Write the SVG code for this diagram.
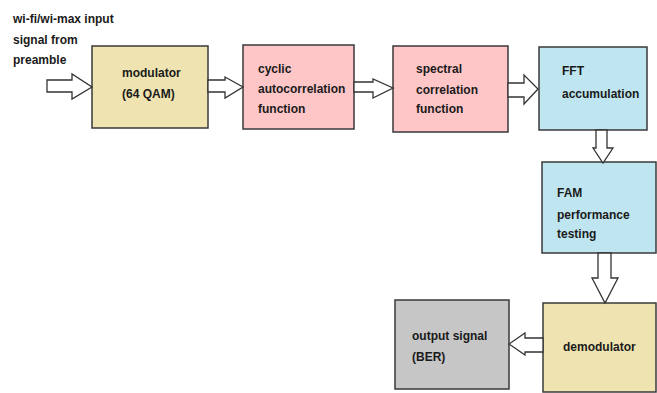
<svg xmlns="http://www.w3.org/2000/svg" width="657" height="393" viewBox="0 0 657 393">
<style>
.box{stroke:#3a3a3a;stroke-width:1.5}
.tan{fill:#efe4b1}
.pink{fill:#ffc6c8}
.blue{fill:#bfe6f0}
.gray{fill:#c6c6c6}
.arr{fill:#ffffff;stroke:#333333;stroke-width:1.3;stroke-linejoin:miter}
text{font-family:"Liberation Sans",Arial,sans-serif;font-size:12px;font-weight:bold;fill:#1a1a1a}
</style>
<rect width="657" height="393" fill="#ffffff"/>
<g id="input-label">
<text x="13" y="23">wi-fi/wi-max input</text>
<text x="13" y="44">signal from</text>
<text x="13" y="64">preamble</text>
</g>
<g id="modulator">
<rect class="box tan" x="92" y="46" width="116" height="82"/>
<text x="122" y="77">modulator</text>
<text x="122" y="98">(64 QAM)</text>
</g>
<g id="cyclic">
<rect class="box pink" x="243" y="45" width="111" height="84"/>
<text x="258" y="73">cyclic</text>
<text x="258" y="93">autocorrelation</text>
<text x="258" y="113">function</text>
</g>
<g id="spectral">
<rect class="box pink" x="393" y="46" width="115" height="86"/>
<text x="416" y="73">spectral</text>
<text x="416" y="94">correlation</text>
<text x="416" y="113">function</text>
</g>
<g id="fft">
<rect class="box blue" x="539" y="47" width="108" height="83"/>
<text x="562" y="75">FFT</text>
<text x="562" y="98">accumulation</text>
</g>
<g id="fam">
<rect class="box blue" x="542" y="162" width="114" height="91"/>
<text x="557" y="197">FAM</text>
<text x="557" y="219">performance</text>
<text x="557" y="238">testing</text>
</g>
<g id="demodulator">
<rect class="box tan" x="543" y="303" width="113" height="89"/>
<text x="563" y="351">demodulator</text>
</g>
<g id="output">
<rect class="box gray" x="395" y="300" width="114" height="89"/>
<text x="412" y="340">output signal</text>
<text x="412" y="361">(BER)</text>
</g>
<g id="connectors">
<polygon class="arr" points="47,80 72,80 72,74 92,87 72,99 72,92 47,92"/>
<polygon class="arr" points="208,80 225,80 225,77 243,87 225,98 225,92 208,92"/>
<polygon class="arr" points="354,82 373,82 373,79 393,88 373,98 373,92 354,92"/>
<polygon class="arr" points="508,83 524,83 524,75 538,89 524,104 524,97 508,97"/>
<polygon class="arr" points="596,130 596,148 593,148 603,163 613,148 607,148 607,130"/>
<polygon class="arr" points="598,253 598,278 592,278 605,303 618,278 611,278 611,253"/>
<polygon class="arr" points="543,338 525,338 525,333 509,344 525,355 525,352 543,352"/>
</g>
</svg>
